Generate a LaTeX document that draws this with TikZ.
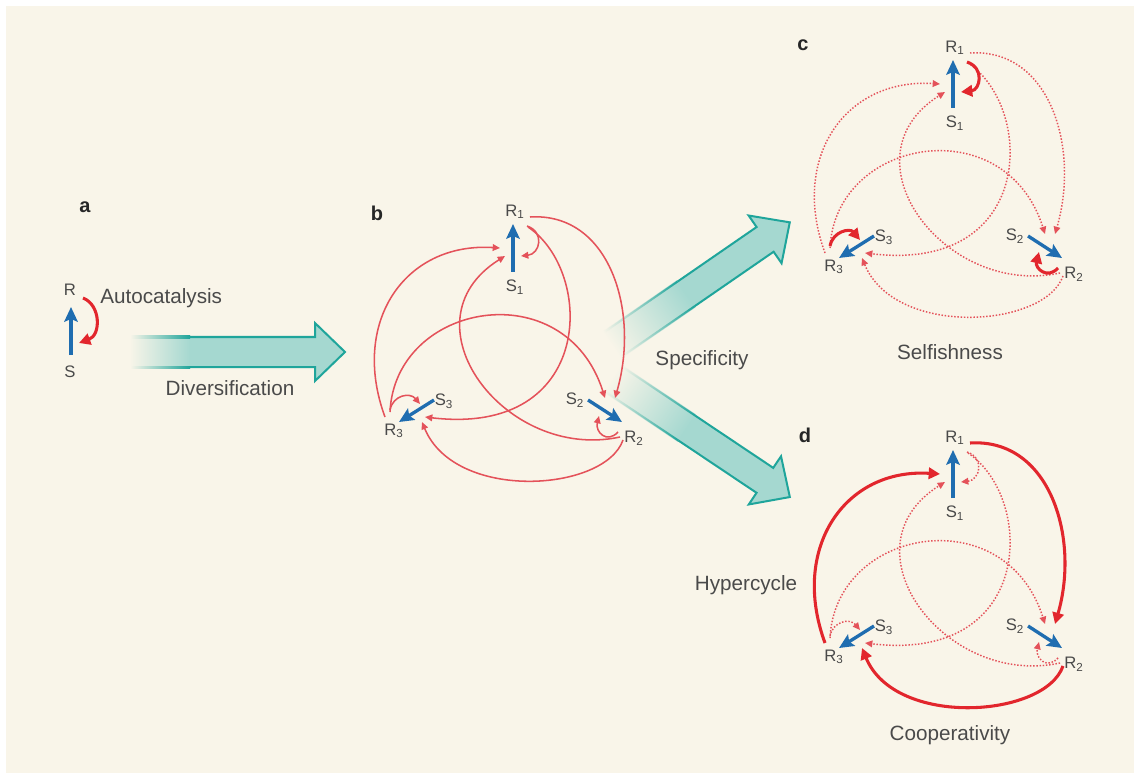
\documentclass[tikz,border=0pt]{standalone}
\usepackage{fontspec}
\setmainfont{Liberation Sans}
\usetikzlibrary{arrows.meta}
\definecolor{bgc}{HTML}{F9F5E9}
\definecolor{arrfill}{HTML}{A5D8D0}
\definecolor{arrline}{HTML}{1FA59B}
\definecolor{txt}{HTML}{4A4A4A}
\definecolor{redb}{HTML}{E2262D}
\definecolor{redt}{HTML}{E4525A}
\definecolor{bluec}{HTML}{1F6DB0}
\tikzset{
 lbl/.style={font=\fontsize{12.5}{12.5}\selectfont, text=txt, inner sep=0pt},
 captxt/.style={font=\fontsize{15.5}{16}\selectfont, text=txt, inner sep=0pt},
 panellbl/.style={font=\bfseries\fontsize{15}{15}\selectfont, text=black!85, inner sep=0pt},
 bluearr/.style={draw=bluec, line width=2.5pt, -{Stealth[length=11pt,width=10pt,inset=2pt]}},
 thinred/.style={draw=redt, line width=1.15pt, -{Triangle[length=5.5pt,width=5pt]}},
 dotred/.style={draw=redt, line width=1.1pt, dash pattern=on 1.1pt off 1.3pt, -{Triangle[length=5.5pt,width=5pt]}},
 boldred/.style={draw=redb, line width=2.3pt, -{Triangle[length=8.5pt,width=8.5pt]}},
}
% teal arrow: #1 tail x, #2 tail y, #3 angle, #4 length, #5 fade length
\newcommand\tealarrow[5]{%
\begin{scope}[transform canvas={shift={(#1,#2)},rotate=#3}]
 \fill[arrfill] (0,-15) -- (#4-30,-15) -- (#4-30,-29) -- (#4,0) -- (#4-30,29) -- (#4-30,15) -- (0,15) -- cycle;
 \shade[left color=bgc,right color=arrfill] (-1,-16.5) rectangle (#5,16.5);
 \draw[arrline, line width=1.5pt, line join=miter] (#5,-15) -- (#4-30,-15) -- (#4-30,-29) -- (#4,0) -- (#4-30,29) -- (#4-30,15) -- (#5,15);
 \shade[left color=bgc,right color=arrline] (0,-16) rectangle (#5,-14);
 \shade[left color=bgc,right color=arrline] (0,14) rectangle (#5,16);
\end{scope}}
% reaction panel: #1 prefix, #2 x, #3 y, #4 outer, #5 inner, #6 self
\newcommand\rpanel[6]{%
\begin{scope}[shift={(#2,#3)}]
 \draw[#4] (15,5) .. controls (95,0) and (125,100) .. (100,186);
 \draw[#4] (108,228) .. controls (90,280) and (-60,290) .. (-93,210);
 \draw[#4] (-130,205) .. controls (-165,110) and (-110,30) .. (-15,36);
 \draw[#5] (13,15) .. controls (80,60) and (80,225) .. (-90,205);
 \draw[#5] (105,225) .. controls (-10,250) and (-115,110) .. (-10,44);
 \draw[#5] (-125,200) .. controls (-120,90) and (50,60) .. (90,186);
 \draw[#6] (12,14) .. controls (30,20) and (25,42) .. (6,44);
 \draw[#6] (-125,198) .. controls (-122,183) and (-105,180) .. (-95,192);
 \draw[#6] (103,220) .. controls (92,232) and (80,220) .. (84,204);
 \node[lbl] (#1R1) at (0,0) {R\textsubscript{1}};
 \node[lbl] (#1S1) at (0,75) {S\textsubscript{1}};
 \node[lbl] (#1R2) at (119,226) {R\textsubscript{2}};
 \node[lbl] (#1S2) at (60,188) {S\textsubscript{2}};
 \node[lbl] (#1R3) at (-121,219) {R\textsubscript{3}};
 \node[lbl] (#1S3) at (-71,189) {S\textsubscript{3}};
 \draw[bluearr] (-2,60) -- (-2,12);
 \draw[bluearr] (-81,188) -- (-116,210);
 \draw[bluearr] (73,188) -- (107,210);
\end{scope}}
\begin{document}
\begin{tikzpicture}[x=0.75pt,y=-0.75pt]
\useasboundingbox (0,0) rectangle (1134,773);
\fill[white] (0,0) rectangle (1134,773);
\fill[bgc] (6,6) rectangle (1134,773);
% big arrows
\tealarrow{130}{352}{0}{215}{60}
\tealarrow{612}{345}{34.6}{216}{90}
\tealarrow{612}{378}{-33.8}{214}{90}
% panel a
\node[panellbl] (la) at (85,207) {a};
\node[lbl] (aR) at (70,290) {R};
\node[lbl] (aS) at (70,372) {S};
\draw[boldred] (83,298) .. controls (101,305) and (101,335) .. (79,343);
\draw[bluearr] (71,355) -- (71,307);
\node[captxt, anchor=west] (auto) at (100,298) {Autocatalysis};
\node[captxt] (div) at (230,388) {Diversification};
% panels
\node[panellbl] (lb) at (377,213) {b};
\rpanel{b}{515}{212}{thinred}{thinred}{thinred}
\node[panellbl] (lc) at (803,45) {c};
\rpanel{c}{955}{48}{dotred}{dotred}{boldred}
\node[panellbl] (ld) at (805,435) {d};
\rpanel{d}{955}{438}{boldred}{dotred}{dotred}
\node[captxt] (spec) at (702,360) {Specificity};
\node[captxt] (self) at (950,352) {Selfishness};
\node[captxt] (hyp) at (746,585) {Hypercycle};
\node[captxt] (coop) at (950,735) {Cooperativity};
\end{tikzpicture}
\end{document}
